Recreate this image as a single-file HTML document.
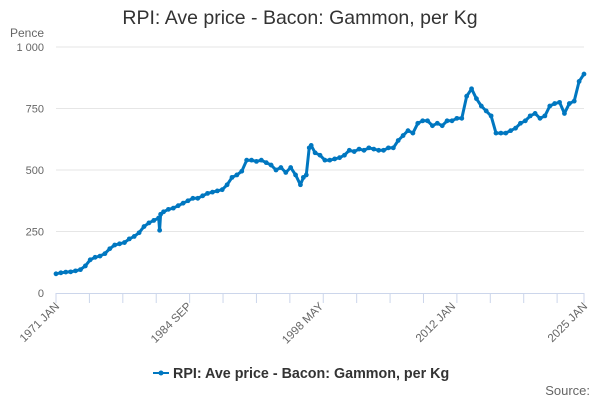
<!DOCTYPE html>
<html><head><meta charset="utf-8"><style>
body{margin:0;background:#fff;font-family:"Liberation Sans",sans-serif;}
svg{display:block}
</style></head><body>
<svg width="600" height="400">
<text x="300" y="24" text-anchor="middle" font-size="19.5" fill="#333">RPI: Ave price - Bacon: Gammon, per Kg</text>
<text x="10" y="37" font-size="12" fill="#666">Pence</text>
<g id="grid"></g><g id="xaxis"></g><g id="series"></g>
<g>
<line x1="153" y1="373" x2="169" y2="373" stroke="#0077c0" stroke-width="2"/>
<circle cx="161" cy="373" r="2.5" fill="#0077c0"/>
<text x="173" y="378" font-size="14.3" font-weight="bold" fill="#333">RPI: Ave price - Bacon: Gammon, per Kg</text>
</g>
<text x="590" y="395" text-anchor="end" font-size="13" fill="#666">Source:</text>
</svg>
<script>
const years=[1971,1971.5,1972,1972.5,1973,1973.5,1974,1974.5,1975,1975.5,1976,1976.5,1977,1977.5,1978,1978.5,1979,1979.5,1980,1980.5,1981,1981.5,1981.6,1981.7,1982,1982.5,1983,1983.5,1984,1984.5,1985,1985.5,1986,1986.5,1987,1987.5,1988,1988.5,1989,1989.5,1990,1990.5,1991,1991.5,1992,1992.5,1993,1993.5,1994,1994.5,1995,1995.5,1996,1996.3,1996.6,1996.9,1997.1,1997.5,1998,1998.5,1999,1999.5,2000,2000.5,2001,2001.5,2002,2002.5,2003,2003.5,2004,2004.5,2005,2005.5,2006,2006.5,2007,2007.5,2008,2008.5,2009,2009.5,2010,2010.5,2011,2011.5,2012,2012.5,2013,2013.5,2014,2014.5,2015,2015.5,2016,2016.5,2017,2017.5,2018,2018.5,2019,2019.5,2020,2020.5,2021,2021.5,2022,2022.5,2023,2023.5,2024,2024.5,2025];
const values=[78,82,85,86,90,95,110,135,145,150,160,180,195,200,205,220,230,245,270,285,295,305,255,320,330,340,345,355,365,375,385,385,395,405,410,415,420,440,470,480,495,540,540,535,540,530,520,500,510,490,510,480,440,470,480,590,600,570,560,540,540,545,550,560,580,575,585,580,590,585,580,580,590,590,620,640,660,650,690,700,700,680,690,680,700,700,710,710,800,830,790,760,740,720,650,650,650,660,670,690,700,720,730,710,720,760,770,775,730,770,780,860,890,900,910];
const yTicks=[0,250,500,750,1000];
const yTickLabels=["0","250","500","750","1 000"];
const xLabels=["1971 JAN","1984 SEP","1998 MAY","2012 JAN","2025 JAN"];
const x0=56,x1=584,y0=293,y1=47;
const xs=t=>x0+(t-1971)/(2025-1971)*(x1-x0);
const ys=v=>y0-v/1000*(y0-y1);
const NS="http://www.w3.org/2000/svg";
function mk(tag,attrs,parent){const e=document.createElementNS(NS,tag);for(const k in attrs)e.setAttribute(k,attrs[k]);parent.appendChild(e);return e;}
const grid=document.getElementById('grid');
yTicks.forEach((v,i)=>{
 if(v>0){const l=mk('line',{x1:x0,x2:x1,y1:ys(v),y2:ys(v),stroke:'#e6e6e6'},grid);
 
 }
 const t=mk('text',{x:44,y:ys(v)+4,'text-anchor':'end','font-size':11,fill:'#666'},grid);t.textContent=yTickLabels[i];
 
 
});
const xa=document.getElementById('xaxis');
const al=mk('line',{x1:x0,x2:x1,y1:y0+0.5,y2:y0+0.5,stroke:'#ccd6eb'},xa);


for(let k=0;k<=16;k++){const t=1971+k*41/12;const x=Math.min(xs(t),x1);
 const tk=mk('line',{x1:x,x2:x,y1:y0,y2:y0+10,stroke:'#ccd6eb'},xa);
 
 }
xLabels.forEach((s,i)=>{const x=x0+i*(x1-x0)/4;
 const t=mk('text',{x:x+4,y:y0+14,'text-anchor':'end','font-size':11.5,fill:'#666',transform:`rotate(-45 ${x+4} ${y0+14})`},xa);t.textContent=s;
 
 });
const sg=document.getElementById('series');
const pts=years.map((t,i)=>xs(t).toFixed(1)+','+ys(values[i]).toFixed(1)).join(' ');
const pl=mk('polyline',{points:pts,fill:'none',stroke:'#0077c0','stroke-width':3,'stroke-linejoin':'round'},sg);


years.forEach((t,i)=>{const c=mk('circle',{cx:xs(t),cy:ys(values[i]),r:2.4,fill:'#0077c0'},sg);
 
 });
</script>
</body></html>
